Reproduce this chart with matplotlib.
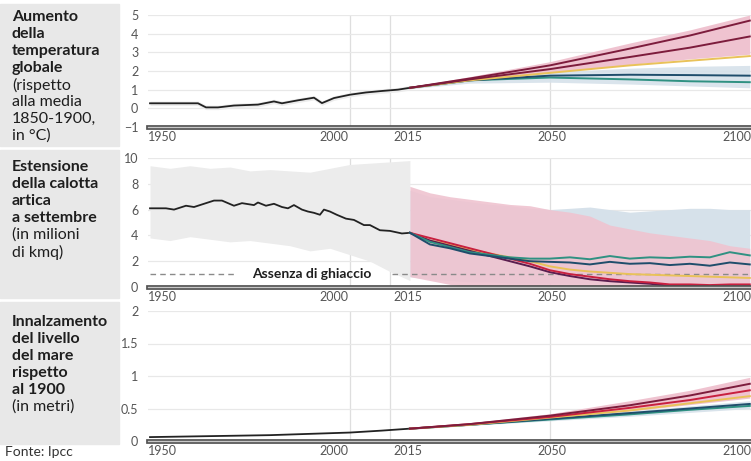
import matplotlib.pyplot as plt
from matplotlib.patches import Rectangle
import numpy as np

plt.rcParams['font.family'] = ['Lato', 'DejaVu Sans']

# ---- temperatura globale (°C rispetto al 1850-1900)
temp_hist_years = [1950, 1955, 1962, 1964, 1967, 1971, 1977, 1981, 1983, 1987,
                   1991, 1993, 1996, 2000, 2004, 2008, 2012, 2015]
temp_hist = [0.27, 0.27, 0.27, 0.05, 0.05, 0.15, 0.2, 0.37, 0.27, 0.43,
             0.57, 0.28, 0.55, 0.73, 0.85, 0.93, 1.0, 1.1]
temp_hist_spread = 0.12

proj_years = [2015, 2030, 2050, 2070, 2085, 2100]
temp_ssp585 = [1.1, 1.6, 2.3, 3.2, 3.9, 4.7]
temp_ssp370 = [1.1, 1.55, 2.1, 2.75, 3.25, 3.85]
temp_ssp245 = [1.1, 1.5, 1.9, 2.3, 2.55, 2.8]
temp_ssp126 = [1.1, 1.5, 1.75, 1.8, 1.78, 1.75]
temp_ssp119 = [1.1, 1.5, 1.65, 1.55, 1.45, 1.4]
temp_pink_hi = [1.15, 1.7, 2.5, 3.5, 4.2, 5.0]
temp_pink_lo = [1.05, 1.45, 1.9, 2.35, 2.65, 2.9]
temp_blue_hi = [1.1, 1.55, 1.95, 2.15, 2.25, 2.3]
temp_blue_lo = [1.05, 1.35, 1.4, 1.3, 1.2, 1.1]

# ---- estensione calotta artica a settembre (milioni di kmq)
ice_hist_years = [1950, 1954, 1956, 1959, 1961, 1964, 1966, 1968, 1971, 1973,
                  1976, 1977, 1979, 1981, 1983, 1984.5, 1986, 1988, 1989.5, 1991,
                  1992.5, 1993.5, 1995, 1996.7, 1999, 2001, 2003.5, 2005, 2007.5,
                  2010, 2013, 2015]
ice_hist = [6.1, 6.1, 6.0, 6.3, 6.2, 6.5, 6.7, 6.7, 6.3, 6.5,
            6.35, 6.55, 6.3, 6.45, 6.2, 6.1, 6.35, 6.0, 5.85, 5.75,
            5.6, 6.0, 5.85, 5.6, 5.3, 5.2, 4.8, 4.8, 4.4,
            4.35, 4.15, 4.2]
ice_band_years = [1950, 1955, 1960, 1965, 1970, 1975, 1980, 1985, 1990, 1995,
                  2000, 2005, 2010, 2015]
ice_band_hi = [9.4, 9.2, 9.4, 9.2, 9.3, 9.0, 9.1, 9.0, 8.9, 9.2, 9.5, 9.6, 9.7, 9.8]
ice_band_lo = [3.8, 3.6, 3.9, 3.7, 3.5, 3.6, 3.4, 3.2, 2.8, 3.0, 2.5, 2.0, 1.2, 0.5]

ice_proj_years = [2015, 2020, 2025, 2030, 2035, 2040, 2045, 2050, 2055, 2060,
                  2065, 2070, 2075, 2080, 2085, 2090, 2095, 2100]
ice_ssp119 = [4.2, 3.5, 3.1, 2.7, 2.5, 2.3, 2.2, 2.2, 2.3, 2.15,
              2.4, 2.2, 2.3, 2.25, 2.35, 2.3, 2.7, 2.45]
ice_ssp126 = [4.2, 3.3, 3.0, 2.6, 2.4, 2.2, 2.0, 1.95, 1.9, 1.75,
              1.95, 1.8, 1.85, 1.7, 1.8, 1.65, 1.9, 1.75]
ice_ssp245 = [4.2, 3.6, 3.3, 2.9, 2.6, 2.3, 2.0, 1.6, 1.35, 1.2,
              1.1, 1.0, 0.95, 0.9, 0.85, 0.8, 0.75, 0.7]
ice_ssp370 = [4.2, 3.8, 3.4, 3.0, 2.6, 2.2, 1.8, 1.3, 1.0, 0.8,
              0.6, 0.45, 0.35, 0.2, 0.2, 0.15, 0.2, 0.2]
ice_ssp585 = [4.2, 3.6, 3.2, 2.8, 2.4, 2.0, 1.6, 1.15, 0.85, 0.6,
              0.45, 0.35, 0.25, 0.1, 0.1, 0.05, 0.05, 0.05]
ice_pink_hi = [7.8, 7.3, 7.0, 6.8, 6.6, 6.4, 6.3, 6.0, 5.8, 5.5,
               4.8, 4.5, 4.2, 4.0, 3.8, 3.6, 3.2, 3.0]
ice_pink_lo = [0.8, 0.5, 0.2, 0.0, 0.0, 0.0, 0.0, 0.0, 0.0, 0.0,
               0.0, 0.0, 0.0, 0.0, 0.0, 0.0, 0.0, 0.0]
ice_blue_hi = [7.5, 7.0, 6.8, 6.6, 6.4, 6.3, 6.1, 6.0, 6.1, 6.2,
               6.0, 5.8, 5.9, 6.0, 6.1, 6.1, 6.0, 6.0]
ice_blue_lo = [0.8, 0.6, 0.5, 0.4, 0.4, 0.3, 0.3, 0.3, 0.3, 0.3,
               0.3, 0.3, 0.3, 0.3, 0.3, 0.3, 0.3, 0.3]
ice_free = 1

# ---- livello del mare (metri rispetto al 1900)
sea_hist_years = [1950, 1960, 1970, 1980, 1990, 2000, 2008, 2015]
sea_hist = [0.06, 0.07, 0.08, 0.09, 0.11, 0.13, 0.16, 0.19]
sea_ssp585 = [0.19, 0.26, 0.39, 0.55, 0.70, 0.88]
sea_ssp370 = [0.19, 0.26, 0.37, 0.51, 0.63, 0.78]
sea_ssp245 = [0.19, 0.25, 0.36, 0.47, 0.58, 0.69]
sea_ssp126 = [0.19, 0.25, 0.34, 0.43, 0.50, 0.57]
sea_ssp119 = [0.19, 0.25, 0.33, 0.41, 0.48, 0.54]
sea_pink_hi = [0.20, 0.28, 0.42, 0.62, 0.78, 0.98]
sea_pink_lo = [0.18, 0.24, 0.34, 0.46, 0.56, 0.66]
sea_blue_hi = [0.19, 0.26, 0.36, 0.46, 0.54, 0.62]
sea_blue_lo = [0.18, 0.24, 0.31, 0.38, 0.44, 0.50]

xtick_pos = [1953, 1996, 2014.5, 2050.5, 2096.8]
xtick_labels = ['1950', '2000', '2015', '2050', '2100']
vgrid_years = [2000, 2010, 2050]

titles = [
    (['Aumento', 'della', 'temperatura', 'globale'],
     ['(rispetto', 'alla media', '1850-1900,', 'in °C)']),
    (['Estensione', 'della calotta', 'artica', 'a settembre'],
     ['(in milioni', 'di kmq)']),
    (['Innalzamento', 'del livello', 'del mare', 'rispetto', 'al 1900'],
     ['(in metri)']),
]

C585 = '#7d1c3c'
C370 = '#c8203f'
C245 = '#e9c259'
C126 = '#1f4d6b'
C119 = '#2f9182'
PINK = '#efc3d0'
BLUE = '#d6e1ea'
HIST = '#ececec'

W, H = 751, 461
fig = plt.figure(figsize=(W / 100, H / 100), dpi=100)


def px_axes(top, bottom):
    return fig.add_axes([148 / W, 1 - bottom / H, (W - 148) / W, (bottom - top) / H])


ax1 = px_axes(15, 127)
ax2 = px_axes(158, 287)
ax3 = px_axes(311, 441)

# left gray boxes with titles
boxes = [(4, 146), (150, 298), (302, 444)]
title_top = [17, 167, 322]
for (b0, b1), (bold, reg), y0 in zip(boxes, titles, title_top):
    fig.patches.append(Rectangle((0, 1 - b1 / H), 119 / W, (b1 - b0) / H,
                                 transform=fig.transFigure, color='#e8e8e8', zorder=0))
    lines = [(t, 'bold') for t in bold] + [(t, 'normal') for t in reg]
    for i, (t, w) in enumerate(lines):
        fig.text(12 / W, 1 - (y0 + i * 17) / H, t, fontsize=11.5, fontweight=w,
                 color='#1e1e1e', va='center', ha='left')

fig.text(5 / W, 1 - 452 / H, 'Fonte: Ipcc', fontsize=10, color='#333333', va='center')

# panel 1
ax1.fill_between(temp_hist_years, np.array(temp_hist) - temp_hist_spread,
                 np.array(temp_hist) + temp_hist_spread, color=HIST, lw=0)
ax1.fill_between(proj_years, temp_pink_lo, temp_pink_hi, color=PINK, lw=0)
ax1.fill_between(proj_years, temp_blue_lo, temp_blue_hi, color=BLUE, lw=0, alpha=0.9)
ax1.plot(temp_hist_years, temp_hist, color='#222222', lw=1.3)
for vals, c in [(temp_ssp119, C119), (temp_ssp126, C126), (temp_ssp245, C245),
                (temp_ssp370, C585), (temp_ssp585, C585)]:
    ax1.plot(proj_years, vals, color=c, lw=1.4)
ax1.set_ylim(-1, 5)
ax1.set_yticks([-1, 0, 1, 2, 3, 4, 5])

# panel 2
ax2.fill_between(ice_band_years, ice_band_lo, ice_band_hi, color=HIST, lw=0)
ax2.fill_between(ice_proj_years, ice_blue_lo, ice_blue_hi, color=BLUE, lw=0)
ax2.fill_between(ice_proj_years, ice_pink_lo, ice_pink_hi, color=PINK, lw=0, alpha=0.9)
ax2.plot([1950, 1971], [ice_free, ice_free], color='#8a8a8a', lw=1, ls=(0, (4, 3)))
ax2.plot([2010.5, 2100], [ice_free, ice_free], color='#8a8a8a', lw=1, ls=(0, (4, 3)))
ax2.text(1990.5, ice_free, 'Assenza di ghiaccio', fontsize=10, fontweight='bold',
         color='#1e1e1e', ha='center', va='center')
ax2.plot(ice_hist_years, ice_hist, color='#222222', lw=1.3)
for vals, c in [(ice_ssp245, C245), (ice_ssp585, '#5b1d4f'), (ice_ssp370, C370),
                (ice_ssp119, C119), (ice_ssp126, C126)]:
    ax2.plot(ice_proj_years, vals, color=c, lw=1.4)
ax2.set_ylim(0, 10)
ax2.set_yticks([0, 2, 4, 6, 8, 10])

# panel 3
ax3.fill_between(proj_years, sea_pink_lo, sea_pink_hi, color=PINK, lw=0)
ax3.fill_between(proj_years, sea_blue_lo, sea_blue_hi, color=BLUE, lw=0, alpha=0.9)
ax3.plot(sea_hist_years, sea_hist, color='#222222', lw=1.3)
for vals, c in [(sea_ssp119, C119), (sea_ssp126, C126), (sea_ssp245, C245),
                (sea_ssp370, C370), (sea_ssp585, C585)]:
    ax3.plot(proj_years, vals, color=c, lw=1.4)
ax3.set_ylim(0, 2)
ax3.set_yticks([0, 0.5, 1, 1.5, 2])
ax3.set_yticklabels(['0', '0.5', '1', '1.5', '2'])

for ax in (ax1, ax2, ax3):
    ax.set_xlim(1949.5, 2100.3)
    ax.set_facecolor('none')
    for s in ('left', 'right', 'top'):
        ax.spines[s].set_visible(False)
    ax.spines['bottom'].set_color('#505050')
    ax.spines['bottom'].set_linewidth(3.4)
    ax.axhline(ax.get_ylim()[0], color='#c8c8c8', lw=1.0, zorder=5, clip_on=False)
    ax.grid(axis='y', color='#e8e8e8', lw=0.9)
    for yr in vgrid_years:
        ax.axvline(yr, color='#dedede', lw=0.9, zorder=0)
    ax.set_axisbelow(True)
    ax.set_xticks(xtick_pos)
    ax.set_xticklabels(xtick_labels)
    ax.tick_params(length=0, labelsize=9, labelcolor='#555555')
    ax.tick_params(axis='x', pad=3)
    ax.tick_params(axis='y', pad=7)

fig.savefig('out.png', dpi=100)
